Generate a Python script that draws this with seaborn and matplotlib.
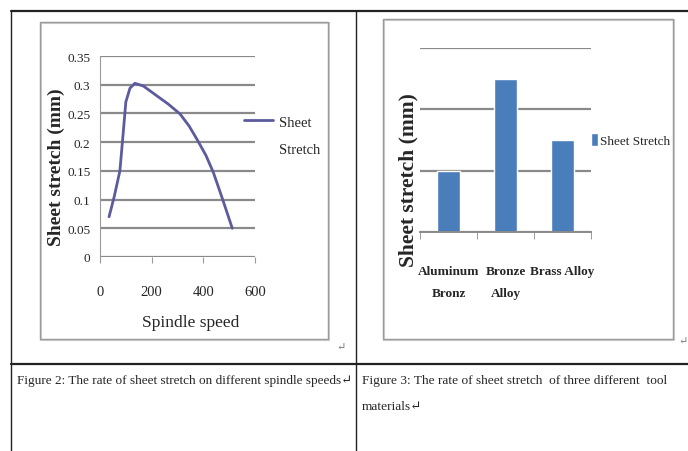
import pandas as pd
import matplotlib
matplotlib.use("Agg")
import matplotlib.pyplot as plt
from matplotlib.patches import Rectangle
from matplotlib.lines import Line2D
import seaborn as sns

# data
spindle_speed = [35, 55, 77, 90, 100, 116, 135, 168, 219, 265, 310, 345, 374, 410, 439, 475, 512]
sheet_stretch = [0.07, 0.105, 0.15, 0.217, 0.27, 0.294, 0.3025, 0.2977, 0.281, 0.266,
                 0.249, 0.228, 0.206, 0.177, 0.147, 0.1, 0.05]

materials = ["Aluminum\nBronz", "Bronze\nAlloy", "Brass Alloy"]
material_stretch = [0.1, 0.25, 0.15]

sns.set_style("white")
plt.rcParams["font.family"] = ["Liberation Serif", "DejaVu Serif"]

W, H = 688, 452
fig = plt.figure(figsize=(W / 100, H / 100), dpi=100)


def box(x0, y0, x1, y1):
    # pixel box (top-left origin) -> figure fraction rect
    return [x0 / W, 1 - y1 / H, (x1 - x0) / W, (y1 - y0) / H]


def fy(y):
    return 1 - y / H


# table lines of the document
for (x0, y0, x1, y1, lw) in [(11, 12, 688, 12, 1.6), (11, 12, 11, 452, 1.0),
                             (356, 12, 356, 452, 1.0), (11, 365, 688, 365, 1.6)]:
    fig.add_artist(Line2D([x0 / W, x1 / W], [fy(y0), fy(y1)], color="#222222", lw=lw))

# chart frames
for (x0, y0, x1, y1) in [(40, 23, 328, 340), (383, 20, 673, 340)]:
    fig.add_artist(Rectangle((x0 / W + 0.002, fy(y1) - 0.003), (x1 - x0) / W, (y1 - y0) / H,
                             transform=fig.transFigure, facecolor="none",
                             edgecolor="#d0d0d0", lw=1.5))
    fig.add_artist(Rectangle((x0 / W, fy(y1)), (x1 - x0) / W, (y1 - y0) / H,
                             transform=fig.transFigure, facecolor="none",
                             edgecolor="#9a9a9a", lw=1.0))

# ---- Figure 2: line chart
ax1 = fig.add_axes(box(100, 57, 255, 258))
df1 = pd.DataFrame({"speed": spindle_speed, "stretch": sheet_stretch})
sns.lineplot(data=df1, x="speed", y="stretch", ax=ax1, color="#5b5b9e", lw=2,
             label="Sheet")
ax1.set_xlim(0, 600)
ax1.set_ylim(0, 0.35)
ax1.set_xticks([0, 200, 400, 600])
ax1.set_yticks([0, 0.05, 0.1, 0.15, 0.2, 0.25, 0.3, 0.35])
ax1.set_yticklabels(["0", "0.05", "0.1", "0.15", "0.2", "0.25", "0.3", "0.35"])
ax1.yaxis.grid(True, color="#8a8a8a", lw=1.6)
ax1.set_axisbelow(True)
for s in ["top", "right"]:
    ax1.spines[s].set_visible(False)
ax1.spines["left"].set_color("#9a9a9a")
ax1.spines["bottom"].set_visible(False)
ax1.tick_params(axis="y", length=3, color="#9a9a9a", labelsize=9.5, pad=4)
ax1.tick_params(axis="x", bottom=True, length=4, color="#9a9a9a", labelsize=10.5, pad=16)
ax1.set_xlabel("Spindle speed", fontsize=12.5)
ax1.xaxis.set_label_coords(0.587, -0.285)
ax1.set_ylabel("Sheet stretch (mm)", fontsize=14, fontweight="bold")
ax1.yaxis.set_label_coords(-0.225, 0.453)
ax1.legend(loc="center left", bbox_to_anchor=(0.93, 0.672), frameon=False,
           fontsize=10.5, handlelength=2.0, handletextpad=0.4,
           borderaxespad=0, borderpad=0)
ax1.text(1.155, 0.535, "Stretch", transform=ax1.transAxes, fontsize=10.5,
         va="center", ha="left")

# ---- Figure 3: bar chart
ax2 = fig.add_axes(box(420, 49, 591, 233))
df2 = pd.DataFrame({"material": materials, "stretch": material_stretch})
sns.barplot(data=df2, x="material", y="stretch", ax=ax2, color="#4a7ebb",
            saturation=1, width=0.39, label="Sheet Stretch")
ax2.set_xlim(-0.5, 2.5)
ax2.set_ylim(0, 0.3)
ax2.set_yticks([0, 0.1, 0.2, 0.3])
ax2.set_yticklabels([])
ax2.yaxis.grid(True, color="#8a8a8a", lw=1.6)
ax2.set_axisbelow(True)
for s in ["top", "right", "left"]:
    ax2.spines[s].set_visible(False)
ax2.spines["bottom"].set_color("#8a8a8a")
ax2.spines["bottom"].set_linewidth(1.4)
ax2.tick_params(axis="y", length=0)
ax2.set_xticks([-0.5, 0.5, 1.5, 2.5], minor=True)
ax2.tick_params(axis="x", which="major", length=0, labelsize=9.5, pad=24)
ax2.tick_params(axis="x", which="minor", bottom=True, length=5, color="#8a8a8a")
for t in ax2.get_xticklabels():
    t.set_fontweight("bold")
    t.set_linespacing(2.1)
    t.set_va("top")
ax2.set_xlabel("")
ax2.set_ylabel("Sheet stretch (mm)", fontsize=15.5, fontweight="bold")
ax2.yaxis.set_label_coords(-0.01, 0.29)
ax2.legend(loc="center left", bbox_to_anchor=(1.0, 0.5), frameon=False,
           fontsize=9.5, handlelength=0.5, handleheight=1.1, handletextpad=0.15,
           borderaxespad=0, borderpad=0)

# captions
fig.text(17 / W, fy(381), "Figure 2: The rate of sheet stretch on different spindle speeds\u21b5",
         fontsize=9.5, va="center", ha="left")
fig.text(362 / W, fy(381), "Figure 3: The rate of sheet stretch  of three different  tool",
         fontsize=9.6, va="center", ha="left")
fig.text(362 / W, fy(407), "materials\u21b5", fontsize=9.6, va="center", ha="left")
fig.text(336 / W, fy(348), "\u21b5", fontsize=8, color="#777777", va="center")
fig.text(678 / W, fy(342), "\u21b5", fontsize=8, color="#777777", va="center")

fig.savefig("out.png", dpi=100)
